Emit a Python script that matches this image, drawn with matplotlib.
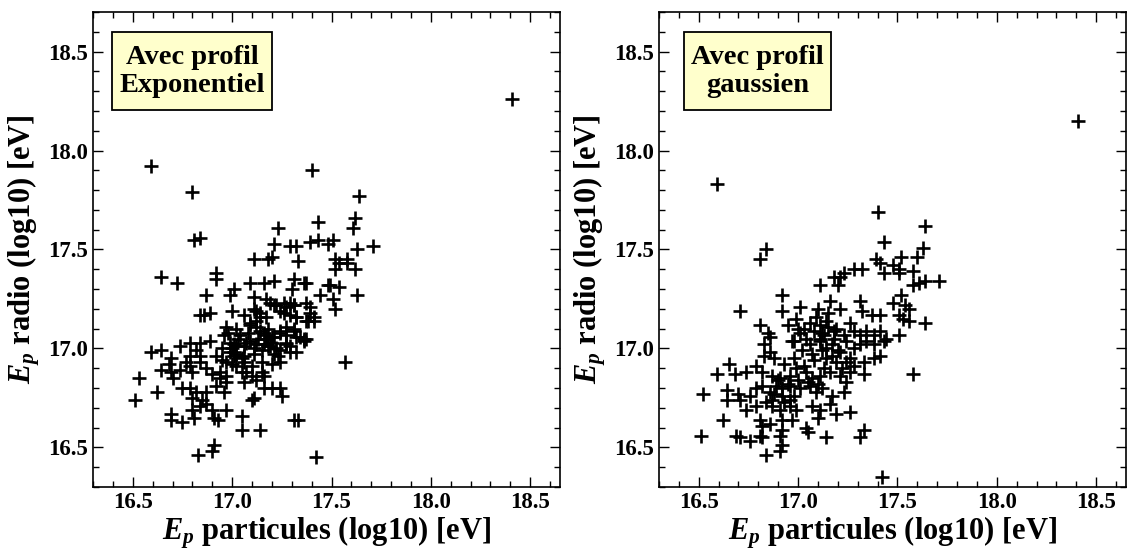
import matplotlib
matplotlib.use('Agg')
import matplotlib.pyplot as plt
from matplotlib.patches import Rectangle
from matplotlib.ticker import MultipleLocator, FormatStrFormatter

plt.rcParams['font.family'] = 'Liberation Serif'
plt.rcParams['font.weight'] = 'bold'
plt.rcParams['mathtext.fontset'] = 'custom'
plt.rcParams['mathtext.it'] = 'Liberation Serif:italic:bold'
plt.rcParams['mathtext.rm'] = 'Liberation Serif:bold'
plt.rcParams['mathtext.bf'] = 'Liberation Serif:bold'

# Exponential profile: particle energy vs radio energy (log10 eV)
x_exp = [18.41, 16.59, 16.80, 17.40, 17.64,
         17.23, 17.43, 17.62, 17.61, 16.81, 16.84, 17.21, 17.29, 17.32,
         17.39, 17.43, 17.48, 17.51, 17.63, 17.71, 17.11, 17.18, 17.20, 17.33,
         17.52, 17.54, 17.58, 17.58, 17.52, 17.62, 16.64, 16.72, 16.92, 16.92,
         17.01, 17.09, 17.16, 17.21, 17.31, 17.37, 17.30, 17.36, 17.48, 17.49, 17.54, 17.63,
         16.87, 16.99, 17.11, 17.17, 17.19, 17.26, 17.29, 17.31, 17.37, 17.44, 17.51, 17.52,
         16.84, 16.86, 16.89, 17.00, 17.06, 17.12, 17.14, 17.22, 17.26, 17.29, 17.32, 17.39, 17.37, 17.41,
         16.97, 16.96, 17.02, 17.09, 17.12, 17.16, 17.20, 17.24, 17.27, 17.31, 17.32, 17.37, 17.27,
         16.74, 16.79, 16.84, 16.89, 16.82, 16.59, 16.64,
         16.99, 17.01, 17.06, 17.11, 17.11, 17.17, 17.19, 17.22, 17.29, 17.32, 17.36, 17.57,
         16.53, 16.51, 16.62, 16.64, 16.68, 16.69, 16.70,
         16.77, 16.74, 16.79, 16.80, 16.84, 16.87, 16.75, 16.79, 16.82, 16.87, 16.80,
         16.69, 16.69, 16.75, 16.81, 16.84, 16.85, 16.80, 16.87,
         16.90, 16.91, 16.93, 16.97, 16.92, 16.96, 16.97, 16.90, 16.94,
         16.83, 16.90, 16.91, 17.05, 17.05, 17.14, 17.31, 17.33, 17.42,
         17.10, 17.11, 17.16, 17.20, 17.24, 17.25,
         17.16, 17.12, 17.16, 17.20, 17.23, 17.24, 17.29, 17.36, 17.01, 17.02, 17.06, 17.07,
         17.06, 17.07, 17.02, 16.95, 16.99, 16.94, 16.97,
         17.11, 17.14, 17.12, 17.09, 17.17, 17.21, 17.24, 17.27, 17.31, 17.32, 17.38, 17.39, 17.41,
         17.14, 17.17, 17.21, 17.24, 17.27, 17.31, 17.34,
         17.09, 17.12, 17.15, 17.18, 17.21, 17.24, 17.27,
         17.04, 17.01, 17.02, 17.06, 16.69, 16.79, 16.84,
         16.98, 17.03, 17.08, 17.13, 17.18, 17.00, 17.05, 17.10, 17.15,
         16.95, 17.00, 17.05, 17.10, 16.92, 16.97, 17.15, 17.20]
y_exp = [18.26, 17.92, 17.79, 17.90, 17.77,
         17.61, 17.64, 17.66, 17.61, 17.55, 17.56, 17.53, 17.52, 17.52,
         17.54, 17.55, 17.53, 17.55, 17.50, 17.52, 17.45, 17.45, 17.46, 17.44,
         17.45, 17.43, 17.45, 17.43, 17.40, 17.40, 17.36, 17.33, 17.38, 17.35,
         17.30, 17.33, 17.33, 17.34, 17.35, 17.33, 17.30, 17.33, 17.32, 17.32, 17.31, 17.27,
         17.27, 17.27, 17.26, 17.25, 17.23, 17.23, 17.23, 17.22, 17.23, 17.27, 17.25, 17.20,
         17.17, 17.17, 17.18, 17.19, 17.17, 17.19, 17.16, 17.22, 17.18, 17.17, 17.16, 17.18, 17.14, 17.14,
         17.11, 17.07, 17.10, 17.13, 17.11, 17.08, 17.06, 17.08, 17.11, 17.10, 17.06, 17.05, 17.03,
         17.01, 17.03, 17.03, 17.04, 16.99, 16.98, 16.99,
         17.03, 16.98, 17.01, 17.00, 16.97, 17.05, 17.01, 17.00, 17.01, 16.98, 17.05, 16.93,
         16.85, 16.74, 16.78, 16.89, 16.92, 16.88, 16.85,
         16.93, 16.89, 16.91, 16.88, 16.93, 16.90, 16.80, 16.80, 16.78, 16.78, 16.75,
         16.67, 16.64, 16.63, 16.65, 16.71, 16.74, 16.69, 16.72,
         16.69, 16.65, 16.64, 16.69, 16.81, 16.78, 16.83, 16.87, 16.85,
         16.46, 16.48, 16.51, 16.66, 16.59, 16.59, 16.64, 16.64, 16.45,
         16.74, 16.75, 16.80, 16.80, 16.80, 16.76,
         16.86, 16.84, 17.02, 17.03, 16.96, 16.93, 16.98, 17.04, 16.96, 16.91, 16.93, 16.88,
         16.83, 17.03, 17.01, 16.94, 16.98, 16.88, 16.86,
         17.20, 17.18, 17.14, 17.12, 17.16, 17.22, 17.19, 17.21, 17.22, 17.16, 17.14, 17.21, 17.16,
         17.09, 17.07, 17.06, 17.09, 17.07, 17.09, 17.06,
         17.04, 17.02, 16.99, 17.01, 16.97, 16.99, 17.02,
         17.07, 17.02, 16.97, 16.96, 16.95, 16.96, 16.96,
         17.08, 17.05, 17.08, 17.05, 17.10, 16.92, 16.95, 16.91, 16.93,
         17.00, 17.00, 16.88, 16.86, 16.96, 16.93, 16.88, 16.92]

# Gaussian profile
x_gau = [18.41, 16.59, 17.40, 17.64,
         17.43, 17.63, 17.60, 16.84, 16.81,
         17.39, 17.41, 17.52, 17.48, 17.51, 17.58, 17.43, 17.51,
         17.28, 17.32, 17.23, 17.21, 17.18, 17.20, 17.11,
         17.61, 17.64, 17.58, 17.71,
         16.92, 16.92, 17.01, 16.71,
         17.16, 17.21, 17.31, 17.32, 17.37, 17.41,
         17.48, 17.52, 17.54, 17.56, 17.51, 17.53, 17.56, 17.64,
         16.81, 16.85, 16.86,
         17.00, 17.01, 17.11, 17.14, 17.08, 17.13, 17.18, 17.19, 17.23, 17.26,
         17.28, 17.31, 17.34, 17.38, 17.41, 17.44, 17.51, 16.98, 17.04, 17.11,
         16.83, 16.86, 16.83, 16.88,
         16.97, 17.06, 17.11, 17.14, 17.17, 17.21, 17.24, 17.28, 17.31, 17.34,
         17.38, 17.43, 17.14, 17.19, 17.24, 17.28, 17.33, 17.38, 17.41,
         16.65, 16.59, 16.68, 16.74, 16.79, 16.82, 16.87, 16.91, 16.96, 16.99,
         17.04, 17.07, 17.11, 17.16, 17.21, 17.26, 17.33,
         16.52, 16.64, 16.70, 16.64, 16.71, 16.76, 16.79, 16.82, 16.86, 16.89,
         16.92, 16.96, 17.01, 17.06, 17.09, 17.12, 17.17, 17.23, 17.24,
         16.74, 16.79, 16.84, 16.87, 16.91, 16.96, 16.99, 17.07, 17.11, 17.16,
         17.19, 17.26, 16.87, 16.92, 16.96,
         16.62, 16.81, 16.82, 16.86, 16.92, 16.92, 16.97, 17.04, 17.05, 17.10,
         16.51, 16.69, 16.71, 16.76, 16.81, 16.82, 16.91, 16.92, 16.91, 16.84,
         17.14, 17.31, 17.33,
         17.58, 17.42,
         16.95, 16.99, 17.03, 17.06, 17.09, 17.12, 17.15, 17.18, 17.02, 17.07,
         17.12, 17.17, 17.22, 16.93, 16.98, 17.03, 17.08, 17.13, 16.90, 16.95,
         17.00, 17.05, 17.10, 16.88, 16.93, 16.98, 17.20, 17.26, 17.15, 17.10]
y_gau = [18.15, 17.83, 17.69, 17.62,
         17.54, 17.51, 17.46, 17.50, 17.45,
         17.45, 17.43, 17.46, 17.42, 17.40, 17.39, 17.38, 17.38,
         17.40, 17.40, 17.38, 17.36, 17.36, 17.32, 17.32,
         17.33, 17.34, 17.32, 17.34,
         17.27, 17.19, 17.21, 17.19,
         17.24, 17.20, 17.24, 17.19, 17.17, 17.17,
         17.23, 17.27, 17.22, 17.20, 17.17, 17.15, 17.14, 17.13,
         17.12, 17.08, 17.06,
         17.10, 17.08, 17.12, 17.14, 17.09, 17.07, 17.09, 17.10, 17.07, 17.13,
         17.09, 17.07, 17.09, 17.07, 17.09, 17.05, 17.07, 17.04, 17.05, 17.05,
         17.02, 16.98, 16.96, 16.95,
         17.04, 17.02, 17.04, 17.00, 17.02, 16.98, 17.04, 17.00, 17.02, 17.04,
         17.02, 17.04, 16.95, 16.93, 16.93, 16.91, 16.93, 16.95, 16.96,
         16.92, 16.87, 16.87, 16.88, 16.91, 16.88, 16.86, 16.85, 16.86, 16.90,
         16.88, 16.85, 16.86, 16.88, 16.86, 16.88, 16.87,
         16.77, 16.79, 16.77, 16.74, 16.74, 16.76, 16.80, 16.81, 16.78, 16.81,
         16.80, 16.81, 16.80, 16.81, 16.78, 16.80, 16.76, 16.78, 16.83,
         16.69, 16.71, 16.73, 16.71, 16.69, 16.71, 16.69, 16.71, 16.69, 16.72,
         16.67, 16.68, 16.74, 16.76, 16.74,
         16.64, 16.64, 16.61, 16.62, 16.64, 16.59, 16.64, 16.60, 16.58, 16.65,
         16.56, 16.56, 16.55, 16.53, 16.56, 16.55, 16.56, 16.51, 16.48, 16.46,
         16.55, 16.55, 16.59,
         16.87, 16.35,
         17.12, 17.15, 17.10, 17.13, 17.16, 17.08, 17.11, 17.05, 16.99, 16.97,
         16.99, 16.96, 16.90, 16.92, 16.95, 16.91, 16.94, 16.90, 16.84, 16.82,
         16.84, 16.83, 16.82, 16.77, 16.73, 16.76, 16.99, 16.95, 17.18, 17.20]

# label box per panel: text, axes left, box x0, box x1 (axes fraction)
panels = [(x_exp, y_exp, 'Avec profil\nExponentiel', 0.0819, 0.041, 0.383),
          (x_gau, y_gau, 'Avec profil\ngaussien', 0.5801, 0.053, 0.368)]

fig = plt.figure(figsize=(11.36, 5.51), dpi=100)

for xs, ys, label, left, bx0, bx1 in panels:
    ax = fig.add_axes([left, 0.1162, 0.4111, 0.862])
    ax.plot(xs, ys, '+', color='black', markersize=9.5, markeredgewidth=1.9)
    ax.set_xlim(16.3, 18.65)
    ax.set_ylim(16.3, 18.7)
    ax.xaxis.set_major_locator(MultipleLocator(0.5))
    ax.xaxis.set_minor_locator(MultipleLocator(0.1))
    ax.yaxis.set_major_locator(MultipleLocator(0.5))
    ax.yaxis.set_minor_locator(MultipleLocator(0.1))
    ax.tick_params(which='both', direction='in', top=True, right=True,
                   labelsize=16.5, width=1)
    ax.tick_params(which='major', length=7)
    ax.tick_params(which='minor', length=4)
    ax.xaxis.set_major_formatter(FormatStrFormatter('%.1f'))
    ax.yaxis.set_major_formatter(FormatStrFormatter('%.1f'))
    for s in ax.spines.values():
        s.set_linewidth(1.2)
    ax.set_xlabel(r'$E_p$ particules (log10) [eV]', fontsize=22, fontweight='bold', labelpad=1)
    ax.set_ylabel(r'$E_p$ radio (log10) [eV]', fontsize=22, fontweight='bold', labelpad=4.5)
    # yellow label box
    ax.add_patch(Rectangle((bx0, 0.794), bx1 - bx0, 0.164, transform=ax.transAxes,
                           facecolor='#ffffcc', edgecolor='black', linewidth=1.3, zorder=3))
    ax.text((bx0 + bx1) / 2, 0.875, label, transform=ax.transAxes, ha='center', va='center',
            multialignment='center', fontsize=20.5, fontweight='bold', linespacing=1.15,
            zorder=4)

fig.savefig('out.png', dpi=100)
